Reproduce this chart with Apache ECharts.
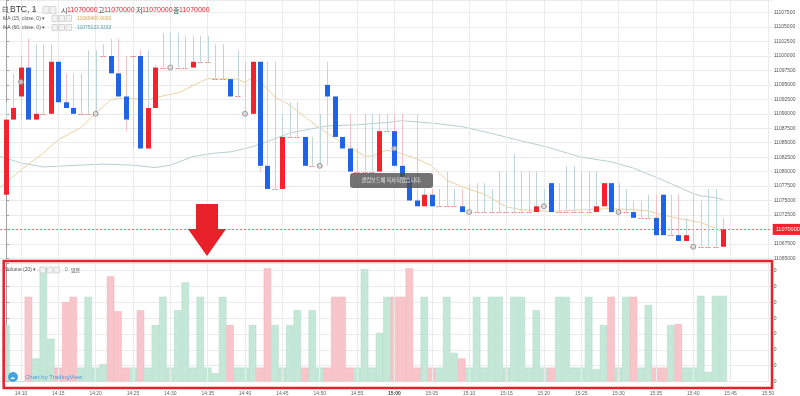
<!DOCTYPE html>
<html><head><meta charset="utf-8">
<script src="https://cdn.jsdelivr.net/npm/echarts@6/dist/echarts.min.js"></script>
<style>html,body{margin:0;padding:0;background:#fff}#c{width:800px;height:396px}</style>
</head><body><div id="c"></div>
<script>
// ---- data (1-minute candles, 14:08 .. 15:44) ----
const openP = [11076000,11089000,11093000,11098000,11089000,11090000,11090000,11099000,11092000,11091000,
 11090000,11090000,11090000,11100000,11100000,11097000,11093000,11100000,11100000,11084000,
 11091000,11098000,11098000,11098000,11098000,11098000,11099000,11099000,11096000,11096000,
 11096000,11093000,11090000,11090000,11099000,11081000,11077000,11077000,11086000,11086000,
 11086000,11081000,11081000,11095000,11093000,11086000,11084000,11080000,11080000,11080000,
 11080000,11087000,11087000,11081000,11079000,11075000,11074000,11076000,11074000,11074000,
 11074000,11074000,11073000,11073000,11073000,11073000,11073000,11073000,11073000,11073000,
 11073000,11073000,11074000,11078000,11073000,11073000,11073000,11073000,11073000,11073000,
 11074000,11078000,11073000,11073000,11073000,11072000,11072000,11072000,11076000,11069000,
 11069000,11068000,11067000,11067000,11067000,11067000,11067000];
const closeP = [11089000,11091000,11098000,11089000,11090000,11090000,11099000,11092000,11091000,11090000,
 11090000,11090000,11090000,11100000,11097000,11093000,11089000,11100000,11084000,11091000,
 11098000,11098000,11098000,11098000,11098000,11099000,11099000,11099000,11096000,11096000,
 11093000,11093000,11090000,11099000,11081000,11077000,11077000,11086000,11086000,11086000,
 11081000,11081000,11081000,11093000,11086000,11084000,11080000,11080000,11080000,11080000,
 11087000,11087000,11081000,11079000,11075000,11074000,11076000,11074000,11074000,11074000,
 11074000,11073000,11073000,11073000,11073000,11073000,11073000,11073000,11073000,11073000,
 11073000,11074000,11074000,11073000,11073000,11073000,11073000,11073000,11073000,11074000,
 11078000,11073000,11073000,11073000,11072000,11072000,11072000,11069000,11069000,11069000,
 11068000,11069000,11067000,11067000,11067000,11067000,11070000];
const lowP = [11076000,11089000,11089000,11089000,11089000,11090000,11090000,11092000,11091000,11090000,
 11090000,11090000,11090000,11100000,11097000,11093000,11087000,11084000,11084000,11084000,
 11091000,11098000,11098000,11098000,11098000,11098000,11099000,11099000,11096000,11096000,
 11093000,11093000,11090000,11090000,11080000,11077000,11077000,11077000,11086000,11086000,
 11081000,11081000,11081000,11081000,11086000,11084000,11080000,11080000,11080000,11080000,
 11080000,11087000,11081000,11079000,11075000,11074000,11074000,11074000,11074000,11074000,
 11074000,11073000,11073000,11073000,11073000,11073000,11073000,11073000,11073000,11073000,
 11073000,11073000,11074000,11073000,11073000,11073000,11073000,11073000,11073000,11073000,
 11074000,11073000,11073000,11073000,11072000,11072000,11072000,11069000,11069000,11069000,
 11068000,11068000,11067000,11067000,11067000,11067000,11067000];
const highP = [11092000,11097000,11100000,11103000,11102000,11102000,11102000,11099000,11097000,11097000,
 11097000,11101000,11101000,11102000,11103000,11103000,11100000,11100000,11101000,11101000,
 11098500,11104000,11104000,11104000,11103500,11103500,11103500,11103500,11102000,11102000,
 11096000,11101000,11099000,11099000,11099000,11099000,11099000,11090000,11092000,11092000,
 11086000,11086000,11090000,11099000,11093000,11086000,11090000,11084000,11090000,11090000,
 11090000,11090000,11090000,11090000,11079000,11090000,11077000,11077000,11077000,11080000,
 11077000,11077000,11078000,11078000,11078000,11077000,11080000,11080000,11083000,11080000,
 11080000,11080000,11077000,11078000,11078000,11081000,11081000,11080000,11080000,11080000,
 11078000,11078000,11078000,11077000,11075000,11075000,11076000,11076000,11076000,11076000,
 11076000,11072000,11076000,11075000,11077000,11077000,11072000];
const volume = [3.57,0,0,5.35,1.46,7.15,2.7,0.88,5.02,5.35,
 0.88,5.35,0.88,1.09,6.64,4.44,0.88,0.88,4.5,0.88,
 3.57,5.35,0.88,4.5,6.26,0.88,5.35,0.88,0.53,5.35,
 3.57,0.88,0.88,3.57,0.88,7.15,3.57,0.88,3.57,4.5,
 0.88,4.5,0.88,0.88,5.35,5.35,0.88,0.88,7.09,0.88,
 3.07,5.35,5.35,5.35,7.15,0.88,5.35,0.88,0.88,5.35,
 1.81,1.46,0.88,5.35,0.88,5.35,5.35,0.88,5.35,5.35,
 0.88,4.5,0.88,0.88,5.35,5.35,0.88,0.88,5.35,0.78,
 3.57,5.35,0.88,5.35,5.35,0.88,4.83,0.88,0.88,3.57,
 3.63,0.88,0.88,5.41,0.61,5.41,5.41];
const ma15 = [[-1,11077000],[2,11080300],[5,11083200],[7,11085500],[10,11087600],[12,11090100],[14,11092400],
 [15,11092700],[17,11092700],[19,11092400],[21,11093100],[23,11093600],[27,11096100],[31,11096000],
 [32,11095400],[33,11096300],[34,11095300],[35,11094300],[36,11092900],[38,11091500],[42,11087500],
 [44,11085800],[46,11084300],[48,11082700],[49,11082700],[51,11083700],[53,11083100],[55,11082200],
 [57,11081000],[59,11078500],[61,11077400],[64,11076100],[67,11073900],[69,11073400],[73,11073100],
 [79,11073500],[81,11073600],[84,11073400],[86,11073200],[87,11072800],[90,11071900],[93,11071200],
 [95,11070200],[96,11069400]];
const ma60 = [[-1,11082700],[2,11081500],[5,11080800],[8,11081000],[13,11081300],[17,11081100],[20,11080700],
 [22,11081100],[25,11082600],[28,11083200],[30,11083400],[33,11084300],[35,11085200],[38,11086700],
 [43,11087900],[47,11088100],[51,11088500],[53,11088800],[57,11088400],[61,11087800],[65,11086600],
 [69,11085300],[72,11084400],[77,11082500],[81,11081700],[84,11080600],[88,11078500],[92,11076200],
 [93,11075800],[95,11075500],[96,11075133]];
const timeLabels = ['14:10','14:15','14:20','14:25','14:30','14:35','14:40','14:45','14:50','14:55','15:00',
 '15:05','15:10','15:15','15:20','15:25','15:30','15:35','15:40','15:45','15:50'];
const timeTickIdx = [2,7,12,17,22,27,32,37,42,47,52,57,62,67,72,77,82,87,92,97,102];
const markerIdx = [2,12,22,32,42,52,62,72,82,92];
const currentPrice = 11070000;

// ---- styles ----
const RED = '#f3222c', BLUE = '#1f63e6';
const WICK_UP = '#bed6d7', WICK_DN = '#f5c3c7';
const VOL_UP = '#c0e5d5', VOL_DN = '#f6c0c5';
const GRIDC = '#ebebeb';
const FONT = 'Liberation Sans, Arial, sans-serif';
const KFONT = 'Noto Sans CJK KR, sans-serif';
const X_MIN = -0.8032, X_MAX = 102.504;

const candleData = openP.map((o, i) => [i, o, closeP[i], lowP[i], highP[i]]);
const chart = echarts.init(document.getElementById('c'), null, {renderer: 'canvas'});

function txt(x, y, s, size, color, font) {
  return {type: 'text', z: 100, style: {x: x, y: y, text: s, fontSize: size, fill: color,
    fontFamily: font || FONT, verticalAlign: 'middle', align: 'left'}};
}
function box(x, y, w, h) {
  return {type: 'rect', z: 100, shape: {x: x, y: y, width: w, height: h}, style: {fill: '#f2f2f2', stroke: '#c9c9c9', lineWidth: 0.7}};
}
function labelFmt(v) {
  const k = timeTickIdx.indexOf(Math.round(v));
  if (k < 0) return '';
  return timeLabels[k] === '15:00' ? '{b|15:00}' : timeLabels[k];
}
function vGrid(gi) {
  return {type: 'line', xAxisIndex: gi, yAxisIndex: gi, data: [], z: 1, silent: true,
    markLine: {silent: true, symbol: ['none', 'none'], animation: false, label: {show: false},
      lineStyle: {color: GRIDC, type: 'solid', width: 1},
      data: timeTickIdx.map(i => ({xAxis: i}))}};
}

const option = {
  animation: false,
  backgroundColor: '#ffffff',
  grid: [
    {left: 0, right: 28.3, top: 0, bottom: 137.7},
    {left: 0, right: 28.3, top: 262.75, bottom: 12.5}
  ],
  xAxis: [
    {type: 'value', gridIndex: 0, min: X_MIN, max: X_MAX,
      axisLine: {show: false}, axisTick: {show: false}, axisLabel: {show: false}, splitLine: {show: false}},
    {type: 'value', gridIndex: 1, min: X_MIN, max: X_MAX,
      axisLine: {show: false}, axisTick: {show: false, customValues: timeTickIdx}, splitLine: {show: false},
      axisLabel: {show: true, customValues: timeTickIdx, margin: 9.5, fontSize: 5, color: '#666', fontFamily: FONT,
        formatter: labelFmt,
        rich: {b: {fontSize: 5, fontWeight: 'bold', color: '#444', fontFamily: FONT}}}}
  ],
  yAxis: [
    {type: 'value', gridIndex: 0, position: 'right', min: 11065000, max: 11109689, interval: 2500,
      axisLine: {show: true, lineStyle: {color: '#a0a0a0'}},
      axisTick: {show: true, length: 3, lineStyle: {color: '#a0a0a0'}},
      axisLabel: {fontSize: 5, color: '#555', margin: 2, fontFamily: FONT,
        formatter: v => (v % 2500 !== 0 ? '' : String(v))},
      splitLine: {show: true, lineStyle: {color: GRIDC}}},
    {type: 'value', gridIndex: 1, position: 'right', min: 0, max: 7.5, interval: 1,
      axisLine: {show: true, lineStyle: {color: '#a0a0a0'}},
      axisTick: {show: true, length: 3, lineStyle: {color: '#a0a0a0'}},
      axisLabel: {fontSize: 5, color: '#555', margin: 2, fontFamily: FONT, formatter: v => (v % 1 === 0 ? '0' : '')},
      splitLine: {show: true, lineStyle: {color: GRIDC}}}
  ],
  series: [
    vGrid(0), vGrid(1),
    {type: 'bar', xAxisIndex: 1, yAxisIndex: 1, barWidth: 7.47, z: 2,
      data: volume.map((v, i) => ({value: [i, v], itemStyle: {color: closeP[i] < openP[i] ? VOL_DN : VOL_UP,
        borderColor: closeP[i] < openP[i] ? '#f1aeb5' : '#a9dac4', borderWidth: 0.5, opacity: 0.92}}))},
    {type: 'line', xAxisIndex: 0, yAxisIndex: 0, data: ma60, showSymbol: false, z: 3,
      lineStyle: {color: '#b8cfd0', width: 1}},
    {type: 'line', xAxisIndex: 0, yAxisIndex: 0, data: ma15, showSymbol: false, z: 3,
      lineStyle: {color: '#ecd2a3', width: 1},
      markLine: {silent: true, symbol: ['none', 'none'], animation: false,
        lineStyle: {color: '#f07078', type: [2, 2], width: 1},
        label: {show: true, position: 'end', distance: 1, formatter: String(currentPrice),
          backgroundColor: RED, color: '#fff', fontSize: 5.5, padding: [2.5, 3], fontFamily: FONT},
        data: [{yAxis: currentPrice}]}},
    {type: 'custom', xAxisIndex: 0, yAxisIndex: 0, z: 5, data: candleData,
      renderItem: function (params, api) {
        const i = api.value(0), o = api.value(1), c = api.value(2), l = api.value(3), h = api.value(4);
        const pO = api.coord([i, o]), pC = api.coord([i, c]), pL = api.coord([i, l]), pH = api.coord([i, h]);
        const x = Math.round(pO[0]) + 0.5;
        const up = c >= o;
        const ch = [];
        if (h !== l) ch.push({type: 'line', shape: {x1: x, y1: pH[1], x2: x, y2: pL[1]},
          style: {stroke: up ? WICK_UP : WICK_DN, lineWidth: 1}});
        if (c === o) {
          ch.push({type: 'line', shape: {x1: x - 3, y1: Math.round(pO[1]) + 0.5, x2: x + 3, y2: Math.round(pO[1]) + 0.5},
            style: {stroke: '#f07a80', lineWidth: 1, lineDash: [2, 1]}});
        } else {
          ch.push({type: 'rect', shape: {x: x - 2.5, y: Math.min(pO[1], pC[1]), width: 5, height: Math.abs(pO[1] - pC[1])},
            style: {fill: up ? RED : BLUE}});
        }
        return {type: 'group', children: ch};
      }},
    {type: 'scatter', xAxisIndex: 0, yAxisIndex: 0, z: 6, symbolSize: 5,
      data: markerIdx.map(i => [i, (openP[i] + closeP[i]) / 2]),
      itemStyle: {color: '#d9d9d9', borderColor: '#8a8a8a', borderWidth: 1}}
  ],
  graphic: [
    // header
    txt(1.5, 10, '⊟', 8, '#666'),
    txt(10, 10, 'BTC, 1', 8.5, '#333'),
    txt(33, 10, '▾', 6, '#999'),
    box(43, 6.5, 6, 7), box(50, 6.5, 6, 7),
    txt(61, 10, '시', 7, '#444', KFONT),
    txt(67, 10, '11070000', 7, RED),
    txt(98, 10, '고', 7, '#444', KFONT),
    txt(104, 10, '11070000', 7, RED),
    txt(136, 10, '저', 7, '#444', KFONT),
    txt(142, 10, '11070000', 7, RED),
    txt(173, 10, '종', 7, '#444', KFONT),
    txt(179, 10, '11070000', 7, RED),
    txt(3, 18.5, 'MA (15, close, 0) ▾', 5, '#555'),
    box(52, 15.5, 5.5, 6), box(59, 15.5, 5.5, 6), box(66, 15.5, 5.5, 6),
    txt(77, 18.5, '11069400.0000', 5, '#d5a658'),
    txt(3, 27.5, 'MA (60, close, 0) ▾', 5, '#555'),
    box(52, 24.5, 5.5, 6), box(59, 24.5, 5.5, 6), box(66, 24.5, 5.5, 6),
    txt(77, 27.5, '11075133.3333', 5, '#5d9ba4'),
    // volume legend
    txt(5, 270, 'Volume (20) ▾', 5, '#555'),
    box(40, 267, 5.5, 6), box(47, 267, 5.5, 6), box(54, 267, 5.5, 6),
    txt(65, 270, '0', 5, '#3da77a'),
    txt(71, 270, '없음', 5, '#444', KFONT),
    // watermark
    {type: 'circle', z: 100, shape: {cx: 13, cy: 377, r: 5}, style: {fill: '#4aa2dc'}},
    txt(10, 377.5, '☁', 5, '#fff'),
    txt(25, 377, 'Chart by TradingView', 6, '#4a9fdc'),
    // toast
    {type: 'rect', z: 110, shape: {x: 350, y: 173, width: 83, height: 15, r: 3}, style: {fill: 'rgba(75,75,75,0.78)'}},
    {type: 'text', z: 111, style: {x: 391.5, y: 180.5, text: '클립보드에 복사되었습니다.', fontSize: 5.2, fill: '#f2f2f2',
      fontFamily: KFONT, align: 'center', verticalAlign: 'middle'}},
    // red annotation arrow
    {type: 'polygon', z: 120, shape: {points: [[196, 204], [218, 204], [218, 229], [226, 229], [207, 256], [188, 229], [196, 229]]},
      style: {fill: '#e8202a'}},
    // red frame around volume pane
    {type: 'rect', z: 120, shape: {x: 3.7, y: 261, width: 768.3, height: 127}, style: {fill: 'none', stroke: '#e8202a', lineWidth: 2.5}}
  ]
};
chart.setOption(option);
</script>
</body></html>
